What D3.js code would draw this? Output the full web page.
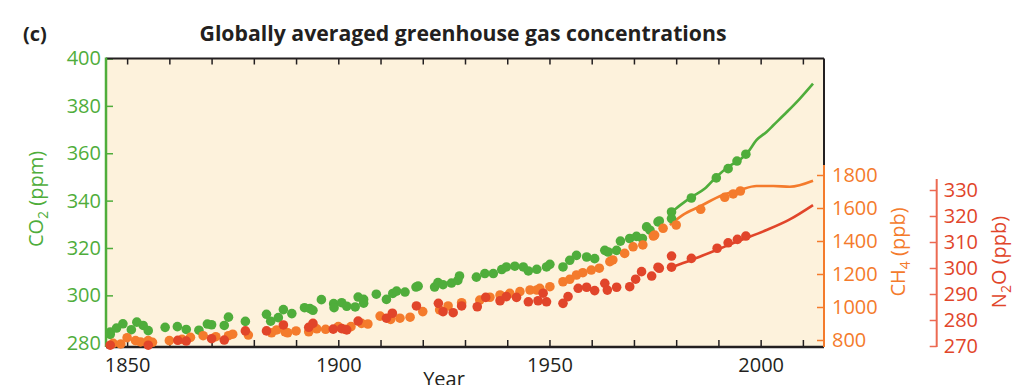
<!DOCTYPE html>
<html>
<head>
<meta charset="utf-8">
<script src="https://cdn.jsdelivr.net/npm/d3@7"></script>
<style>
  body { margin: 0; background: #fff; }
  text { font-family: "Open Sans", sans-serif; }
</style>
</head>
<body>
<div class="chart"></div>
<script>
var width = 1019;
var height = 385;

// ice core / firn dots
var co2DotYears = [1846, 1846, 1847.5, 1849, 1851, 1852.3, 1853.8, 1855, 1859, 1861.9, 1864, 1867, 1869, 1870, 1873, 1874, 1878,
	1883, 1884, 1885.8, 1887, 1889, 1892, 1893.3, 1894, 1896, 1898.9, 1899, 1900.8, 1902, 1904, 1904.7, 1906, 1906, 1909, 1911.4, 1912.9,
	1913.8, 1915.8, 1918.4, 1918.9, 1922.8, 1923.6, 1924.8, 1926.8, 1928.3, 1928.7, 1932.7, 1934.7, 1936.7, 1938.7, 1939.8, 1941.8,
	1943.8, 1945, 1947, 1949.3, 1950.1, 1953.2, 1954.8, 1956.4, 1958.8, 1960.7, 1963.1, 1963.9, 1965.9, 1966.8, 1969, 1970.6, 1972,
	1973, 1973.8, 1975.7, 1976, 1978.9, 1978.9, 1983.6, 1989.5, 1992.3, 1994.4, 1996.5];
var co2DotValues = [284.5, 283.5, 286.2, 288.0, 285.5, 288.7, 287.3, 285.1, 286.5, 286.8, 285.6, 285.3, 287.9, 287.6, 287.3, 290.8, 289.0,
	292.0, 289.1, 290.6, 294.0, 292.3, 294.8, 294.4, 293.7, 298.2, 296.5, 294.8, 296.9, 295.4, 295.1, 299.3, 298.3, 296.7, 300.5, 298.3, 300.8,
	301.8, 301.4, 303.5, 303.9, 303.5, 305.4, 304.5, 305.2, 306.3, 308.2, 307.7, 309.2, 309.2, 310.9, 312.0, 312.3,
	312.0, 310.3, 311.0, 312.0, 313.1, 312.0, 314.8, 316.9, 316.2, 315.5, 319.0, 318.3, 319.0, 322.9, 324.0, 324.9, 324.0,
	328.9, 327.5, 331.0, 331.4, 335.2, 332.4, 341.1, 349.6, 353.5, 356.7, 359.6];

var ch4DotYears = [1846.7, 1848.5, 1850, 1852, 1853.2, 1855, 1856, 1860, 1863, 1865, 1868, 1871, 1874, 1875, 1878.7,
	1884.2, 1885.4, 1887.4, 1888, 1890, 1893, 1893.7, 1894.9, 1897, 1900, 1901.6, 1903, 1905.5, 1907, 1909.9, 1912.4,
	1914.6, 1917, 1920, 1924, 1926, 1929.2, 1933.5, 1935.9, 1938.3, 1940.6, 1943, 1945.4, 1947, 1947.7, 1950.1,
	1953.2, 1954.8, 1956.4, 1957.9, 1959.9, 1961.8, 1964.3, 1965, 1967.8, 1969.8, 1972.1, 1974.6, 1974.9, 1976.9,
	1980, 1985.8, 1991.5, 1993.5, 1995.2];
var ch4DotValues = [780, 776, 814, 796, 788, 796, 786, 796, 804, 816, 826, 820, 826, 835, 830,
	844, 861, 850, 844, 855, 850, 881, 868, 865, 881, 865, 881, 901, 897, 945, 925,
	932, 938, 972, 982, 1006, 1026, 1042, 1059, 1073, 1083, 1093, 1103, 1103, 1113, 1123,
	1153, 1168, 1194, 1208, 1224, 1235, 1275, 1285, 1325, 1365, 1376, 1430, 1436, 1477,
	1497, 1592, 1665, 1685, 1703];

var n2oDotYears = [1846, 1855, 1862, 1864, 1870, 1873, 1878, 1883, 1887, 1893, 1894, 1898.8, 1900.8, 1902, 1904.7, 1911.4, 1912.8,
	1918.5, 1923.7, 1924.8, 1927.2, 1929.2, 1932.9, 1934.9, 1938.3, 1939.8, 1942.2, 1945, 1947.3, 1948.5, 1949.3,
	1953.2, 1954.4, 1956.8, 1958.8, 1960.7, 1963.1, 1963.7, 1965.9, 1969, 1970.4, 1971.8, 1974.2, 1975.7, 1976,
	1978.9, 1978.9, 1983.6, 1989.7, 1992.3, 1994.5, 1996.5];
var n2oDotValues = [270.3, 270.3, 272.2, 271.9, 272.8, 272.3, 275.8, 275.8, 278.1, 277.2, 278.7, 276.5, 276.7, 276.2, 279.6, 280.7, 282.6,
	285.4, 286.4, 283.2, 282.8, 285.4, 285.1, 288.7, 287.4, 289.0, 288.7, 287.0, 287.4, 290.3, 287.0,
	286.4, 289.0, 292.2, 292.6, 291.3, 294.1, 291.5, 292.6, 292.8, 295.7, 298.6, 296.9, 300.3, 299.9,
	304.6, 300.3, 303.7, 307.6, 309.7, 311.0, 312.3];

// atmospheric measurement lines
var co2LineYears = [1978.5, 1980.9, 1983.6, 1986.8, 1989.5, 1992.3, 1995.1, 1997, 1999, 2001.4, 2003, 2006.2, 2009.3, 2012.4];
var co2LineValues = [334.5, 338.0, 341.5, 345.1, 350.0, 354.2, 357.3, 360.5, 365.5, 369.0, 371.8, 377.4, 383.1, 389.4];
var ch4LineYears = [1978.5, 1981.6, 1985.5, 1991, 1995.1, 1999, 2003, 2006.9, 2012.4];
var ch4LineValues = [1497, 1558, 1608, 1679, 1709, 1733, 1733, 1729, 1765];
var n2oLineYears = [1978.9, 1983.6, 1989.5, 1994.3, 2001.4, 2006.9, 2012.4];
var n2oLineValues = [300.3, 303.1, 306.9, 310.1, 314.6, 318.7, 324.2];

// ticks
var yearTicks = d3.range(1850, 2011, 10);
var yearLabels = [1850, 1900, 1950, 2000];
var co2Ticks = [280, 300, 320, 340, 360, 380, 400];
var ch4Ticks = [800, 1000, 1200, 1400, 1600, 1800];
var n2oTicks = [270, 280, 290, 300, 310, 320, 330];

var green = "#4fad3b";
var orange = "#f47b2c";
var red = "#e1452a";
var dark = "#231f20";

// plot box (note: "top" is reserved on window, so prefix everything)
var plotLeft = 106, plotRight = 824, plotTop = 58.5, plotBottom = 347;

var x = d3.scaleLinear().domain([1845, 2015]).range([plotLeft, plotRight]);
var yCO2 = d3.scaleLinear().domain([278.2, 400]).range([plotBottom, plotTop]);
var yCH4 = d3.scaleLinear().domain([800, 1800]).range([340, 175]);
var yN2O = d3.scaleLinear().domain([270, 330]).range([346, 190]);

var svg = d3.select(".chart")
	.append("svg")
	.attr("width", width)
	.attr("height", height);

svg.append("rect")
	.attr("x", plotLeft)
	.attr("y", plotTop)
	.attr("width", plotRight - plotLeft)
	.attr("height", plotBottom - plotTop)
	.attr("fill", "#fdf2dc");

// top and bottom year axes
var xBottom = svg.append("g")
	.attr("transform", "translate(0," + plotBottom + ")")
	.call(d3.axisBottom(x).tickValues(yearTicks).tickSizeInner(-7).tickSizeOuter(0).tickPadding(11)
		.tickFormat(function(d) { return yearLabels.indexOf(d) >= 0 ? d : ""; }));
var xTop = svg.append("g")
	.attr("transform", "translate(0," + plotTop + ")")
	.call(d3.axisTop(x).tickValues(yearTicks).tickSizeInner(-6).tickSizeOuter(0).tickFormat(""));

[xBottom, xTop].forEach(function(g) {
	g.select(".domain").remove();
	g.selectAll("line").attr("stroke", dark).attr("stroke-width", 1.5);
	g.selectAll("text").attr("fill", dark).style("font-size", "20px");
});

var fmt = d3.format("d");

// left CO2 axis
var yLeft = svg.append("g")
	.attr("transform", "translate(" + plotLeft + ",0)")
	.call(d3.axisLeft(yCO2).tickValues(co2Ticks).tickFormat(fmt).tickSizeInner(-7).tickSizeOuter(0).tickPadding(5));
yLeft.select(".domain").remove();
yLeft.selectAll("line").attr("stroke", green).attr("stroke-width", 1.5);
yLeft.selectAll("text").attr("fill", green).style("font-size", "20px");

// right CH4 axis
var yRight = svg.append("g")
	.attr("transform", "translate(" + plotRight + ",0)")
	.call(d3.axisRight(yCH4).tickValues(ch4Ticks).tickFormat(fmt).tickSizeInner(-7).tickSizeOuter(0).tickPadding(8));
yRight.select(".domain").remove();
yRight.selectAll("line").attr("stroke", orange).attr("stroke-width", 1.5);
yRight.selectAll("text").attr("fill", orange).style("font-size", "20px");

// separate N2O axis
var n2oX = 936.7;
var yFar = svg.append("g")
	.attr("transform", "translate(" + n2oX + ",0)")
	.call(d3.axisRight(yN2O).tickValues(n2oTicks).tickFormat(fmt).tickSizeInner(-7).tickSizeOuter(0).tickPadding(7));
yFar.select(".domain").remove();
yFar.selectAll("line").attr("stroke", "#ec6a52").attr("stroke-width", 1.5);
yFar.selectAll("text").attr("fill", red).style("font-size", "20px");

// frame lines
svg.append("line").attr("x1", plotLeft).attr("x2", plotRight).attr("y1", plotTop).attr("y2", plotTop)
	.attr("stroke", dark).attr("stroke-width", 2);
svg.append("line").attr("x1", plotLeft).attr("x2", plotRight).attr("y1", plotBottom).attr("y2", plotBottom)
	.attr("stroke", dark).attr("stroke-width", 2.5);
svg.append("line").attr("x1", plotRight).attr("x2", plotRight).attr("y1", plotTop).attr("y2", 165)
	.attr("stroke", dark).attr("stroke-width", 2);
svg.append("line").attr("x1", plotRight).attr("x2", plotRight).attr("y1", 165).attr("y2", plotBottom)
	.attr("stroke", orange).attr("stroke-width", 2);
svg.append("line").attr("x1", plotLeft).attr("x2", plotLeft).attr("y1", plotTop - 1).attr("y2", plotBottom)
	.attr("stroke", green).attr("stroke-width", 2.5);
svg.append("line").attr("x1", n2oX).attr("x2", n2oX).attr("y1", 179).attr("y2", plotBottom)
	.attr("stroke", "#ec6a52").attr("stroke-width", 2);

// series
var series = [
	{ color: green, y: yCO2, dotYears: co2DotYears, dotValues: co2DotValues, lineYears: co2LineYears, lineValues: co2LineValues },
	{ color: orange, y: yCH4, dotYears: ch4DotYears, dotValues: ch4DotValues, lineYears: ch4LineYears, lineValues: ch4LineValues },
	{ color: red, y: yN2O, dotYears: n2oDotYears, dotValues: n2oDotValues, lineYears: n2oLineYears, lineValues: n2oLineValues }
];

series.forEach(function(s) {
	var line = d3.line()
		.x(function(d) { return x(s.lineYears[d]); })
		.y(function(d) { return s.y(s.lineValues[d]); })
		.curve(d3.curveMonotoneX);
	svg.append("path")
		.datum(d3.range(s.lineYears.length))
		.attr("d", line)
		.attr("fill", "none")
		.attr("stroke", s.color)
		.attr("stroke-width", 2.6);
});

series.forEach(function(s) {
	svg.append("g").selectAll("circle")
		.data(d3.range(s.dotYears.length))
		.enter()
		.append("circle")
		.attr("cx", function(d) { return x(s.dotYears[d]); })
		.attr("cy", function(d) { return s.y(s.dotValues[d]); })
		.attr("r", 4.8)
		.attr("fill", s.color);
});

// titles and axis labels
svg.append("text")
	.attr("x", 23)
	.attr("y", 41)
	.style("font-size", "20px")
	.style("font-weight", "bold")
	.attr("fill", dark)
	.text("(c)");

svg.append("text")
	.attr("x", 463)
	.attr("y", 41)
	.attr("text-anchor", "middle")
	.attr("textLength", 527)
	.attr("lengthAdjust", "spacingAndGlyphs")
	.style("font-size", "22px")
	.style("font-weight", "bold")
	.attr("fill", dark)
	.text("Globally averaged greenhouse gas concentrations");

// the reference crops this label at the bottom edge too
svg.append("text")
	.attr("x", 444)
	.attr("y", 386)
	.attr("text-anchor", "middle")
	.style("font-size", "20px")
	.attr("fill", dark)
	.text("Year");

function gasLabel(px, py, color, main, sub, rest) {
	var t = svg.append("text")
		.attr("transform", "translate(" + px + "," + py + ") rotate(-90)")
		.attr("text-anchor", "middle")
		.style("font-size", "20px")
		.attr("fill", color);
	t.append("tspan").text(main);
	t.append("tspan").attr("dy", 5).style("font-size", "14px").text(sub);
	t.append("tspan").attr("dy", -5).text(rest);
}
gasLabel(43, 199, green, "CO", "2", " (ppm)");
gasLabel(905, 252, orange, "CH", "4", " (ppb)");
gasLabel(1006, 262, red, "N", "2", "O (ppb)");
</script>
</body>
</html>
